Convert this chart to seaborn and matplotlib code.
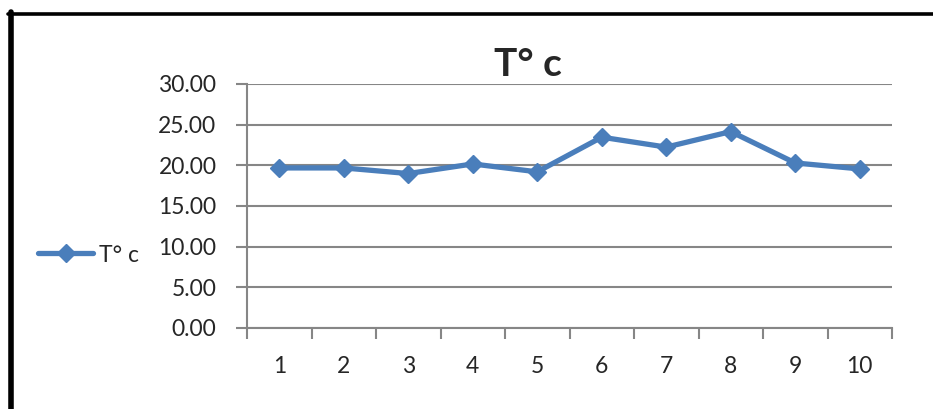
"""Line chart of temperature readings (T° c) over 10 measurements."""
from matplotlib import pyplot as plt
import pandas as pd
import seaborn as sns

measure = [1, 2, 3, 4, 5, 6, 7, 8, 9, 10]
temp_c = [19.68, 19.68, 18.99, 20.17, 19.20, 23.46, 22.24, 24.15, 20.29, 19.56]
y_ticks = [0, 5, 10, 15, 20, 25, 30]
series_name = "T° c"

df = pd.DataFrame({"measure": measure, series_name: temp_c})

sns.set_style("white")
plt.rcParams["font.family"] = ["Lato", "DejaVu Sans"]

grey = "#868686"
blue = "#4A7EBB"

fig = plt.figure(figsize=(9.33, 4.09), dpi=100)
ax = fig.add_axes([247 / 933, 81 / 409, 645 / 933, 244 / 409])

sns.lineplot(
    data=df,
    x="measure",
    y=series_name,
    ax=ax,
    color=blue,
    linewidth=3.8,
    marker="D",
    markersize=9.5,
    markeredgecolor=blue,
    markeredgewidth=1,
    label=series_name,
)

ax.set_xlim(0.5, 10.5)
ax.set_ylim(0, 30)
ax.set_xlabel("")
ax.set_ylabel("")

# category labels at the centres, tick marks between categories
ax.set_xticks(measure)
ax.set_xticklabels([str(m) for m in measure])
ax.set_xticks([m - 0.5 for m in measure] + [10.5], minor=True)
ax.tick_params(axis="x", which="major", bottom=True, length=0, pad=20, labelsize=16.5)
ax.tick_params(axis="x", which="minor", bottom=True, length=8, width=1.5,
               color=grey, direction="out")

ax.set_yticks(y_ticks)
ax.set_yticklabels([f"{v:.2f}" for v in y_ticks])
ax.tick_params(axis="y", which="major", left=True, length=8, width=1.5, color=grey,
               direction="out", pad=14, labelsize=16.5)

ax.yaxis.grid(True, color=grey, linewidth=1.5)
ax.set_axisbelow(True)
for side in ["top", "right"]:
    ax.spines[side].set_visible(False)
for side in ["left", "bottom"]:
    ax.spines[side].set_color(grey)
    ax.spines[side].set_linewidth(1.5)

fig.text(528 / 933, 1 - 76 / 409, series_name, ha="center", va="baseline",
         fontsize=28, fontweight="bold")

ax.legend(loc="center left", bbox_to_anchor=(38 / 933, 1 - 255 / 409),
          bbox_transform=fig.transFigure, frameon=False, fontsize=16.5,
          handlelength=2.4, handletextpad=0.25, borderpad=0, borderaxespad=0)

# chart frame (only left and top edges are visible in the crop)
fig.add_artist(plt.Line2D([10.5 / 933, 10.5 / 933], [0, 1 - 12 / 409],
                          transform=fig.transFigure, color="black", linewidth=4))
fig.add_artist(plt.Line2D([8 / 933, 1], [1 - 13.5 / 409, 1 - 13.5 / 409],
                          transform=fig.transFigure, color="black", linewidth=2.6))

fig.savefig("out.png", dpi=100)
